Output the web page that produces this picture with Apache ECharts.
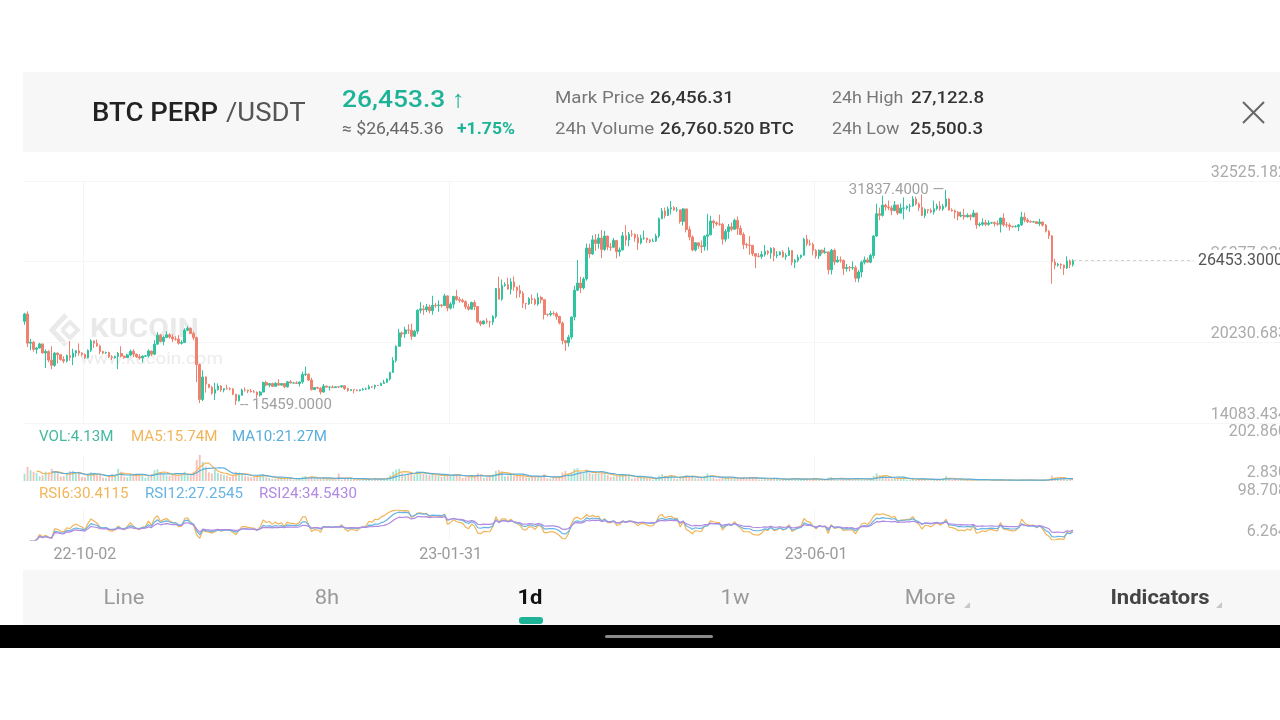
<!DOCTYPE html>
<html><head><meta charset="utf-8">
<script src="https://cdn.jsdelivr.net/npm/echarts@6/dist/echarts.min.js"></script>
<style>html,body{margin:0;padding:0;background:#fff}#c{width:1280px;height:720px}</style>
</head><body><div id="c"></div>
<script>
// ---------- DATA ----------
const startDate = [2022, 9, 12];          // first daily candle
const totalSlots = 416;                    // category slots on the time axis (incl. empty future)
const tickLabels = ['22-10-02', '23-01-31', '23-06-01'];
const priceAxis = { min: 14083.434, max: 32525.182 };
const volAxis = { min: 2.83, max: 202.86 };
const rsiAxis = { min: 6.264, max: 98.708 };
const volLegend = ['VOL:4.13M', 'MA5:15.74M', 'MA10:21.27M'];
const rsiLegend = ['RSI6:30.4115', 'RSI12:27.2545', 'RSI24:34.5430'];

// daily candles [open, close, low, high]
const ohlc = [
// 2022-09 (12..30)
[21830,22390,21560,22480],[22390,20170,19880,22590],[20170,20240,19630,20500],[20240,19700,19520,20330],
[19700,19800,19360,19880],[19800,20110,19760,20190],[20110,19420,19370,20120],[19420,19540,18270,19690],
[19540,18880,18720,19630],[18880,18480,18180,19930],[18480,19410,18360,19490],[19410,19290,18620,19460],
[19290,18920,18840,19310],[18920,18800,18640,19170],[18800,19220,18690,19310],[19220,19080,18830,20330],
[19080,19410,18490,19750],[19410,19590,19120,19640],[19590,19420,19220,20150],
// 2022-10
[19420,19310,19170,19480],[19310,19060,18950,19390],[19060,19620,19000,19690],[19620,20340,19500,20460],
[20340,20160,19800,20360],[20160,19960,19890,20440],[19960,19530,19330,20050],[19530,19420,19320,19600],
[19420,19450,19340,19530],[19450,19130,19030,19520],[19130,19060,18880,19250],[19060,19150,18980,19210],
[19150,19380,18190,19500],[19380,19180,19090,19930],[19180,19070,18980,19210],[19070,19270,19040,19360],
[19270,19550,19160,19670],[19550,19330,19100,19700],[19330,19130,19040,19360],[19130,19040,18910,19320],
[19040,19170,18700,19240],[19170,19200,19110,19250],[19200,19570,19080,19690],[19570,19330,19180,19600],
[19330,20090,19250,20400],[20090,20770,20060,21000],[20770,20290,20220,20860],[20290,20600,20000,20740],
[20600,20810,20570,21080],[20810,20630,20510,20930],[20630,20490,20250,20840],
// 2022-11
[20490,20480,20350,20690],[20480,20160,20050,20780],[20160,20210,20060,20390],[20210,21150,20180,21300],
[21150,21300,21080,21460],[21300,20900,20880,21360],[20900,20590,20400,21050],[20590,18540,17200,20650],
[18540,15880,15600,18600],[15880,17590,15760,18100],[17590,17040,16400,17640],[17040,16800,16730,17050],
[16800,16350,16250,16920],[16350,16620,15840,17150],[16620,16900,16550,17100],[16900,16600,16450,16970],
[16600,16700,16420,16740],[16700,16690,16620,17000],[16690,16680,16570,16800],[16680,16280,16200,16740],
[16280,15780,15459,16300],[15780,16190,15720,16260],[16190,16600,16150,16700],[16600,16590,16480,16790],
[16590,16520,16360,16620],[16520,16460,16420,16680],[16460,16440,16400,16590],[16440,16210,15990,16480],
[16210,16440,16100,16520],[16440,17170,16430,17240],
// 2022-12
[17170,16970,16870,17310],[16970,17090,16800,17110],[17090,16880,16860,17150],[16880,17110,16870,17200],
[17110,16970,16910,17420],[16970,17090,16920,17110],[17090,16840,16730,17130],[16840,17220,16780,17290],
[17220,17130,17100,17350],[17130,17140,17090,17220],[17140,17090,17070,17270],[17090,17210,16870,17240],
[17210,17780,17080,18000],[17780,17810,17660,18390],[17810,17360,17280,17850],[17360,16630,16560,17530],
[16630,16780,16590,16800],[16780,16740,16670,16860],[16740,16440,16270,16810],[16440,16900,16400,17060],
[16900,16820,16750,16900],[16820,16830,16560,16870],[16830,16780,16760,16950],[16780,16840,16780,16870],
[16840,16830,16740,16870],[16830,16920,16790,16940],[16920,16710,16600,16960],[16710,16550,16470,16780],
[16550,16630,16530,16650],[16630,16600,16340,16650],[16600,16540,16500,16640],
// 2023-01
[16540,16620,16500,16630],[16620,16670,16550,16760],[16670,16680,16600,16780],[16680,16850,16650,17000],
[16850,16830,16760,16880],[16830,16950,16650,17010],[16950,16940,16910,16970],[16940,17090,16910,17160],
[17090,17180,17080,17380],[17180,17440,17150,17480],[17440,17940,17320,17990],[17940,18850,17900,19100],
[18850,19930,18700,20000],[19930,20950,19890,21260],[20950,20880,20600,21060],[20880,21170,20570,21420],
[21170,21160,20870,21600],[21160,20690,20420,21650],[20690,21080,20660,21190],[21080,22680,20880,22740],
[22680,22780,22440,23300],[22780,22710,22330,23070],[22710,22930,22530,23160],[22930,22640,22450,23110],
[22640,23060,22330,23780],[23060,23020,22870,23230],[23020,23080,22560,23430],[23080,23030,22890,23160],
[23030,23770,23000,23930],[23770,22840,22600,23800],[22840,23140,22730,23290],
// 2023-02
[23140,23720,22820,23780],[23720,23490,23400,24230],[23490,23430,23250,23680],[23430,23330,23250,23570],
[23330,22940,22760,23430],[22940,22760,22650,23160],[22760,23260,22740,23340],[23260,22960,22700,23440],
[22960,21800,21700,23000],[21800,21630,21460,21900],[21630,21860,21600,21900],[21860,21790,21640,22070],
[21790,21780,21370,21880],[21780,22200,21560,22310],[22200,24330,22060,24370],[24330,23520,23510,25240],
[23520,24570,23400,25020],[24570,24630,24470,24800],[24630,24280,24270,25150],[24280,24840,23870,25110],
[24840,24440,24150,25250],[24440,24190,23600,24470],[24190,23950,23660,24600],[23950,23200,22850,24120],
[23200,23160,22740,23210],[23160,23550,23080,23670],[23550,23490,23150,23880],[23490,23150,23050,23600],
// 2023-03
[23150,23650,23020,24000],[23650,23480,23200,23780],[23480,22360,21980,23490],[22360,22350,22200,22420],
[22350,22430,22210,22620],[22430,22410,22280,22590],[22410,22200,21950,22530],[22200,21700,21600,22260],
[21700,20360,20080,21820],[20360,20190,19570,20370],[20190,20630,19900,20800],[20630,22160,20460,22190],
[22160,24200,21900,24530],[24200,24750,24130,26500],[24750,24380,23990,25230],[24380,25060,24260,25200],
[25060,27420,24930,27760],[27420,26970,26660,27740],[26970,28040,26900,28390],[28040,27770,27200,28490],
[27770,28180,27370,28500],[28180,27310,26650,28790],[27310,28330,27200,28730],[28330,27490,27250,28370],
[27490,27480,27190,27800],[27480,28000,27450,28180],[28000,27140,26630,28030],[27140,27270,26780,27460],
[27270,28350,27250,28630],[28350,28030,27600,29160],[28030,28480,27550,28640],
// 2023-04
[28480,28460,28270,28800],[28460,28200,27900,28530],[28200,27800,27270,28470],[27800,28170,27690,28420],
[28170,28180,28040,28750],[28180,28040,27790,28190],[28040,27920,27800,28090],[27920,27950,27880,28150],
[27950,28330,27880,28510],[28330,29650,28180,29750],[29650,30240,29620,30470],[30240,29890,29680,30500],
[29890,30400,29860,30590],[30400,30490,29980,31000],[30490,30320,30250,30620],[30320,30330,30170,30540],
[30330,29450,29280,30340],[29450,30400,29130,30470],[30400,28820,28610,30410],[28820,28250,28010,29080],
[28250,27270,27170,28380],[27270,27820,27150,27870],[27820,27590,27360,27820],[27590,27520,27040,28000],
[27520,28310,27220,28390],[28310,28420,27240,30020],[28420,29470,28390,29880],[29470,29340,28910,29580],
[29340,29250,29100,29440],[29250,29230,29110,29960],
// 2023-05
[29230,28090,27680,29320],[28090,28680,27890,28860],[28680,29030,28120,29250],[29030,28850,28700,29360],
[28850,29530,28820,29660],[29530,28900,28420,29820],[28900,28450,28390,29150],[28450,27690,27330,28610],
[27690,27650,27400,27820],[27650,27620,26900,28320],[27620,26990,26800,27630],[26990,26800,25870,27000],
[26800,26780,26700,27030],[26780,26930,26600,27200],[26930,27170,26760,27650],[27170,27030,26880,27270],
[27030,27400,26600,27470],[27400,26830,26400,27480],[26830,26890,26650,27180],[26890,27120,26860,27160],
[27120,26750,26680,27260],[26750,26850,26530,27030],[26850,27230,26830,27480],[27230,26330,26100,27240],
[26330,26480,25880,26580],[26480,26720,26330,26920],[26720,26870,26600,26920],[26870,28090,26830,28190],
[28090,27740,27560,28430],[27740,27700,27570,28060],[27700,27220,26860,27830],
// 2023-06
[27220,26820,26620,27340],[26820,27250,26580,27300],[27250,27070,26930,27310],[27070,27120,26970,27450],
[27120,25760,25410,27130],[25760,27240,25400,27350],[27240,26350,26120,27370],[26350,26500,26310,26800],
[26500,26480,26300,26780],[26480,25850,25370,26530],[25850,25940,25620,26200],[25940,25900,25640,26060],
[25900,25920,25750,26390],[25920,25120,24830,26080],[25120,25590,24800,25750],[25590,26340,25180,26460],
[26340,26510,26170,26770],[26510,26340,26280,26680],[26340,26850,26260,26980],[26850,28330,26630,28400],
[28330,30030,28280,30800],[30030,29910,29530,30500],[29910,30690,29810,31400],[30690,30550,30270,30800],
[30550,30470,30300,31040],[30470,30270,29920,30650],[30270,30700,30220,31000],[30700,30080,29930,30710],
[30080,30450,30050,30820],[30450,30470,29600,31280],
// 2023-07
[30470,30590,30330,30660],[30590,30620,30180,30790],[30620,31160,30570,31380],[31160,30770,30660,31330],
[30770,30510,30220,30880],[30510,29900,29850,31500],[29900,30350,29700,30440],[30350,30290,30050,30380],
[30290,30170,30070,30440],[30170,30410,29960,31030],[30410,30620,30290,30800],[30620,30390,30250,30980],
[30390,30600,30250,30780],[30600,31150,30500,31837.4],[31150,30310,30250,31220],[30310,30250,30180,30440],
[30250,30140,29660,30340],[30140,29860,29530,30240],[29860,29910,29760,30190],[29910,29800,29580,30410],
[29800,29910,29730,30060],[29910,29800,29520,29990],[29800,30080,29740,30330],[30080,29180,28880,30100],
[29180,29230,29050,29370],[29230,29350,29100,29680],[29350,29220,29080,29570],[29220,29320,29120,29530],
[29320,29350,29260,29410],[29350,29280,29050,29450],[29280,29230,29120,29520],
// 2023-08 (1..25)
[29230,29700,28600,29740],[29700,29180,29050,30050],[29180,29170,28970,29400],[29170,29070,28760,29310],
[29070,29040,28960,29110],[29040,29050,28980,29160],[29050,29180,28700,29250],[29180,29770,29110,30180],
[29770,29560,29380,30120],[29560,29430,29330,29700],[29430,29400,29350,29530],[29400,29420,29360,29470],
[29420,29280,29250,29460],[29280,29400,29090,29650],[29400,29170,29050,29440],[29170,28700,28600,29250],
[28700,28350,28100,28780],[28350,26350,24700,28400],[26350,26100,25800,26600],[26100,26190,25990,26280],
[26190,26120,25820,26240],[26120,25900,25370,26150],[25900,26430,25820,26780],[26430,26160,25880,26550],
[26160,26453.3,26000,26560]
];

// daily volume (M)
const volumes = [
// 2022-09
59,112,85,74,65,39,46,74,70,96,78,62,37,40,65,78,81,59,62,
// 2022-10
34,31,54,70,59,46,53,28,25,46,54,50,96,74,34,31,53,56,46,50,56,28,37,56,85,93,68,59,46,43,53,
// 2022-11
50,46,53,74,56,46,74,165,202.86,150,112,70,62,90,65,56,50,46,34,46,74,68,56,43,37,31,34,46,43,56,
// 2022-12
31,26,19,19,29,24,24,26,22,14,14,24,36,41,34,36,19,17,24,26,19,19,17,12,60,14,19,22,19,19,14,
// 2023-01
12,17,17,24,19,22,14,17,26,29,46,74,90,96,62,56,59,65,46,81,74,56,53,50,56,46,43,34,50,53,46,
// 2023-02
56,53,43,28,31,40,40,43,62,53,28,31,46,53,81,87,78,40,43,50,46,43,40,43,31,28,37,40,
// 2023-03
43,37,56,22,22,28,34,40,68,81,62,68,96,102,71,62,90,65,56,68,62,71,59,50,34,37,46,43,53,50,46,
// 2023-04
21,23,31,29,26,23,21,13,18,44,55,42,39,44,23,18,31,39,49,39,42,23,21,29,39,62,47,31,18,21,
// 2023-05
29,26,29,24,26,24,22,34,24,29,26,34,14,14,22,19,22,24,19,12,12,17,19,24,22,17,12,19,22,17,19,
// 2023-06
17,14,10,10,29,34,24,14,17,26,17,14,17,24,26,22,12,10,17,42,62,48,42,25,22,22,25,22,20,34,
// 2023-07
13,11,18,15,15,24,18,9,9,15,15,18,24,40,22,11,13,15,13,13,11,9,11,20,13,11,11,11,7,7,11,
// 2023-08
12,12,10,10,6,6,10,14,12,10,8,6,6,10,12,14,18,45,30,27,24,18,15,17.57,4.13
];

// ---------- STYLE ----------
const UP = '#2fc3a0', DOWN = '#f0816f';
const C_MA5 = '#f1b55a', C_MA10 = '#5aaedc', C_R6 = '#f1b55a', C_R12 = '#68b4e4', C_R24 = '#b08ae3';
const FONT = 'Roboto, "Noto Sans", sans-serif';

// ---------- DERIVED ----------
const dates = [];
{
  const d = new Date(Date.UTC(startDate[0], startDate[1] - 1, startDate[2]));
  for (let i = 0; i < totalSlots; i++) {
    dates.push(String(d.getUTCFullYear()).slice(2) + '-' + String(d.getUTCMonth() + 1).padStart(2, '0') + '-' + String(d.getUTCDate()).padStart(2, '0'));
    d.setUTCDate(d.getUTCDate() + 1);
  }
}
const isTick = (i) => tickLabels.indexOf(dates[i]) >= 0;
const closes = ohlc.map(r => r[1]);
function ma(arr, n) { return arr.map((v, i) => { if (i < n - 1) return '-'; let s = 0; for (let k = i - n + 1; k <= i; k++) s += arr[k]; return +(s / n).toFixed(3); }); }
function rsi(c, n) {
  const out = ['-']; let up = 0, all = 0;
  for (let i = 1; i < c.length; i++) {
    const d = c[i] - c[i - 1];
    up = (Math.max(d, 0) + (n - 1) * up) / n;
    all = (Math.abs(d) + (n - 1) * all) / n;
    out.push(all ? +(up / all * 100).toFixed(3) : '-');
  }
  return out;
}
const lastIdx = ohlc.length - 1;
const lastClose = ohlc[lastIdx][1];
const priceLineEnd = 387;

const chart = echarts.init(document.getElementById('c'));
const xBase = (g) => ({
  type: 'category', gridIndex: g, data: dates, boundaryGap: true,
  axisLine: { show: false }, axisTick: { show: false },
  axisLabel: g === 2 ? { show: true, interval: (i) => isTick(i), color: '#9b9b9b', fontSize: 16, fontFamily: FONT, margin: 7 } : { show: false },
  splitLine: { show: true, interval: (i) => isTick(i), lineStyle: { color: '#f5f5f5', width: 1 } }
});
const yBase = (g, a, split, lift) => ({
  type: 'value', gridIndex: g, position: 'right',
  min: a.min, max: a.max, interval: (a.max - a.min) / (g === 0 ? 3 : 1),
  axisLine: { show: false }, axisTick: { show: false },
  axisLabel: {
    inside: true, align: 'right', verticalAlign: 'bottom', margin: -16, color: '#ababab', fontSize: 16, fontFamily: FONT,
    formatter: (v) => (lift && v > a.max - 1e-6) ? '{t|' + v.toFixed(4) + '}' : v.toFixed(4),
    rich: { t: { fontSize: 16, color: '#ababab', fontFamily: FONT, padding: [0, 0, lift || 0, 0] } }
  },
  splitLine: { show: split, lineStyle: { color: '#f6f6f6' } }
});

const T = (x, y, text, size, color, weight, extra) => Object.assign({
  type: 'text', x, y, scaleX: 1.1,
  style: { text, fontSize: size, fill: color, fontWeight: weight || 'normal', fontFamily: FONT, verticalAlign: 'middle', align: 'left' }
}, extra || {});
const C = (x, y, text, color, weight) => ({
  type: 'text', x, y, scaleX: 1.1,
  style: { text, fontSize: 20, fill: color, fontWeight: weight || 'normal', fontFamily: FONT, verticalAlign: 'middle', align: 'center' }
});

const option = {
  animation: false,
  backgroundColor: '#ffffff',
  grid: [
    { left: 23, right: 0, top: 181, height: 242, outerBoundsMode: 'none' },
    { left: 23, right: 0, top: 455, height: 26, outerBoundsMode: 'none' },
    { left: 23, right: 0, top: 510, height: 30, outerBoundsMode: 'none' }
  ],
  xAxis: [xBase(0), xBase(1), xBase(2)],
  yAxis: [yBase(0, priceAxis, true, 0), yBase(1, volAxis, false, 15), yBase(2, rsiAxis, false, 11)],
  series: [
    {
      type: 'candlestick', xAxisIndex: 0, yAxisIndex: 0, data: ohlc, barWidth: '70%', z: 3,
      itemStyle: { color: UP, color0: DOWN, borderColor: UP, borderColor0: DOWN, borderWidth: 1 },
      markPoint: {
        symbol: 'circle', symbolSize: 0, silent: true,
        data: [
          { type: 'max', valueDim: 'highest', label: { position: 'left', distance: 2, formatter: (p) => p.value.toFixed(4) + ' —' } },
          { type: 'min', valueDim: 'lowest', label: { position: 'right', distance: 4, formatter: (p) => '-- ' + p.value.toFixed(4) } }
        ],
        label: { show: true, color: '#a0a0a0', fontSize: 15, fontFamily: FONT }
      },
      markLine: {
        silent: true, symbol: ['none', 'none'],
        lineStyle: { type: [3, 3], color: '#cfcfcf', width: 1 },
        label: { show: true, position: 'end', distance: 2, formatter: () => lastClose.toFixed(4), color: '#555', fontSize: 16, fontFamily: FONT, backgroundColor: '#ffffff', padding: [3, 2, 3, 2] },
        data: [[{ coord: [lastIdx, lastClose] }, { coord: [priceLineEnd, lastClose] }]]
      }
    },
    {
      type: 'bar', xAxisIndex: 1, yAxisIndex: 1, barWidth: '60%',
      data: volumes.map((v, i) => ({ value: v, itemStyle: { color: ohlc[i][1] >= ohlc[i][0] ? 'rgba(47,195,160,0.45)' : 'rgba(240,129,111,0.5)' } }))
    },
    { type: 'line', xAxisIndex: 1, yAxisIndex: 1, data: ma(volumes, 5), showSymbol: false, lineStyle: { color: C_MA5, width: 1.2 } },
    { type: 'line', xAxisIndex: 1, yAxisIndex: 1, data: ma(volumes, 10), showSymbol: false, lineStyle: { color: C_MA10, width: 1.2 } },
    { type: 'line', xAxisIndex: 2, yAxisIndex: 2, data: rsi(closes, 6), showSymbol: false, lineStyle: { color: C_R6, width: 1.2 } },
    { type: 'line', xAxisIndex: 2, yAxisIndex: 2, data: rsi(closes, 12), showSymbol: false, lineStyle: { color: C_R12, width: 1.2 } },
    { type: 'line', xAxisIndex: 2, yAxisIndex: 2, data: rsi(closes, 24), showSymbol: false, lineStyle: { color: C_R24, width: 1.2 } }
  ],
  graphic: [
    // header band
    { type: 'rect', z: -10, shape: { x: 23, y: 72, width: 1257, height: 80 }, style: { fill: '#f7f7f7' } },
    T(92, 115, 'BTC PERP', 25, '#222', 500),
    T(226, 115, '/USDT', 25, '#555', 'normal'),
    T(342, 101, '26,453.3 ↑', 24, '#1db397', 500),
    T(342, 130, '≈ $26,445.36', 16, '#666', 'normal'),
    T(457, 130, '+1.75%', 16, '#1db397', 'bold'),
    T(555, 99, 'Mark Price', 17, '#777', 'normal'),
    T(650, 99, '26,456.31', 17, '#333', 500),
    T(555, 130, '24h Volume', 17, '#777', 'normal'),
    T(660, 130, '26,760.520 BTC', 17, '#333', 500),
    T(832, 99, '24h High', 17, '#777', 'normal', { scaleX: 1.05 }),
    T(911, 99, '27,122.8', 17, '#333', 500),
    T(832, 130, '24h Low', 17, '#777', 'normal', { scaleX: 1.05 }),
    T(910, 130, '25,500.3', 17, '#333', 500),
    { type: 'line', shape: { x1: 1243, y1: 102, x2: 1264, y2: 123 }, style: { stroke: '#666', lineWidth: 2 } },
    { type: 'line', shape: { x1: 1264, y1: 102, x2: 1243, y2: 123 }, style: { stroke: '#666', lineWidth: 2 } },
    // watermark
    { type: 'polyline', z: -5, shape: { points: [[66, 315], [52, 330], [66, 345]] }, style: { stroke: '#eaeaea', lineWidth: 5, fill: null } },
    { type: 'polyline', z: -5, shape: { points: [[62, 330], [70, 322], [78, 330], [70, 338], [62, 330]] }, style: { stroke: '#eaeaea', lineWidth: 4, fill: null } },
    T(90, 330, 'KUCOIN', 26, '#e9e9e9', 'bold', { z: -5, scaleX: 1.15 }),
    T(80, 360, 'www.kucoin.com', 17, '#ebebeb', 'normal', { z: -5 }),
    // panel legends
    T(39, 437, volLegend[0], 14, '#45b8a0', 'normal', { scaleX: 1.08 }),
    T(131, 437, volLegend[1], 14, C_MA5, 'normal', { scaleX: 1.08 }),
    T(232, 437, volLegend[2], 14, C_MA10, 'normal', { scaleX: 1.08 }),
    T(39, 494, rsiLegend[0], 14, C_R6, 'normal', { scaleX: 1.08 }),
    T(145, 494, rsiLegend[1], 14, C_R12, 'normal', { scaleX: 1.08 }),
    T(259, 494, rsiLegend[2], 14, C_R24, 'normal', { scaleX: 1.08 }),
    // bottom tab bar
    { type: 'rect', z: -10, shape: { x: 23, y: 570, width: 1257, height: 55 }, style: { fill: '#f7f7f7' } },
    C(124, 599, 'Line', '#9a9a9a'),
    C(327, 599, '8h', '#9a9a9a'),
    C(530, 599, '1d', '#111', 'bold'),
    C(735, 599, '1w', '#9a9a9a'),
    C(930, 599, 'More', '#9a9a9a'),
    C(1160, 599, 'Indicators', '#444', 'bold'),
    { type: 'polygon', shape: { points: [[970, 602], [970, 608], [964, 608]] }, style: { fill: '#c8c8c8' } },
    { type: 'polygon', shape: { points: [[1222, 602], [1222, 608], [1216, 608]] }, style: { fill: '#c8c8c8' } },
    { type: 'rect', shape: { x: 519, y: 617, width: 24, height: 7, r: 3 }, style: { fill: '#1db397' } },
    // system bar
    { type: 'rect', shape: { x: 0, y: 625, width: 1280, height: 23 }, style: { fill: '#000' } },
    { type: 'rect', shape: { x: 605, y: 635, width: 108, height: 3, r: 1.5 }, style: { fill: '#8a8a8a' } }
  ]
};
chart.setOption(option);
</script>
</body></html>
